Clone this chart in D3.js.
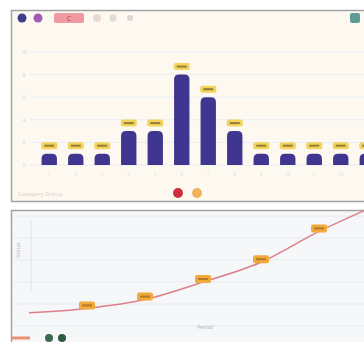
<!DOCTYPE html>
<html><head><meta charset="utf-8">
<script src="https://cdn.jsdelivr.net/npm/d3@7"></script>
<style>html,body{margin:0;padding:0;background:#fff;overflow:hidden}svg{display:block;font-family:"Noto Sans",sans-serif}</style>
</head><body>
<svg id="c" width="364" height="342"></svg>
<script>
// ---- data ----
const barCategories = ["1","2","3","4","5","6","7","8","9","10","11","12","13","14"];
const barValues = [1, 1, 1, 3, 3, 8, 6, 3, 1, 1, 1, 1, 1, 1];
const barTicks = [0, 2, 4, 6, 8, 10];
const legendTop = ["A", "B", "C", "D", "E", "F"];
const lineCategories = ["P1","P2","P3","P4","P5","P6","P7"];
const lineValues = [6, 8, 12, 20, 29, 43, 55];
const lineTicks = [0, 10, 20, 30, 40, 50];

const svg = d3.select("#c");

// ---- top panel ----
const topG = svg.append("g");
topG.append("rect").attr("x", 11.5).attr("y", 10.5).attr("width", 400).attr("height", 191)
  .attr("fill", "#fdf9f1").attr("stroke", "#a3a3a3").attr("stroke-width", 1.5);

const xb = d3.scaleBand().domain(barCategories).range([36, 407]).paddingInner(0.42).paddingOuter(0.21);
const yb = d3.scaleLinear().domain([0, 10]).range([165, 52]);

topG.append("g").selectAll("line").data(barTicks).join("line")
  .attr("x1", 30).attr("x2", 400).attr("y1", d => yb(d)).attr("y2", d => yb(d))
  .attr("stroke", "#e6eef6").attr("stroke-width", 1);
topG.append("g").selectAll("text").data(barTicks).join("text")
  .attr("x", 24).attr("y", d => yb(d) + 2).attr("text-anchor", "middle")
  .attr("font-size", 5).attr("fill", "#cfd6dd").text(d => d);

topG.append("g").selectAll("path").data(barValues).join("path")
  .attr("fill", "#40368f")
  .attr("d", (d, i) => {
    const x0 = xb(barCategories[i]), w = xb.bandwidth(), y0 = yb(d), y1 = yb(0), r = 5;
    return `M${x0},${y1}V${y0 + r}Q${x0},${y0} ${x0 + r},${y0}H${x0 + w - r}Q${x0 + w},${y0} ${x0 + w},${y0 + r}V${y1}Z`;
  });
const badges = topG.append("g").selectAll("g").data(barValues).join("g")
  .attr("transform", (d, i) => `translate(${xb(barCategories[i]) + xb.bandwidth() / 2},${yb(d) - 8})`);
badges.append("rect").attr("x", -8).attr("y", -3.5).attr("width", 16).attr("height", 7).attr("rx", 2)
  .attr("fill", "#f3d35a");
badges.append("rect").attr("x", -5).attr("y", -1).attr("width", 10).attr("height", 2).attr("fill", "#6b5a2a").attr("opacity", 0.7);

topG.append("g").selectAll("text").data(barCategories.filter(d => xb(d) + xb.bandwidth() < 356)).join("text")
  .attr("x", d => xb(d) + xb.bandwidth() / 2).attr("y", 176).attr("text-anchor", "middle")
  .attr("font-size", 5).attr("fill", (d, i) => i % 2 ? "#cde3f0" : "#e8eab0").text(d => d);

const lg = topG.append("g");
lg.append("circle").attr("cx", 22).attr("cy", 18).attr("r", 4.5).attr("fill", "#3f3d8c");
lg.append("circle").attr("cx", 38).attr("cy", 18).attr("r", 4.5).attr("fill", "#a05bb3");
lg.append("rect").attr("x", 54).attr("y", 13).attr("width", 30).attr("height", 10).attr("rx", 2).attr("fill", "#ef9aa0");
lg.append("text").attr("x", 69).attr("y", 20.5).attr("text-anchor", "middle").attr("font-size", 7).attr("fill", "#d33a4a").text(legendTop[2]);
lg.append("circle").attr("cx", 97).attr("cy", 18).attr("r", 4).attr("fill", "#ecd8d2");
lg.append("circle").attr("cx", 113).attr("cy", 18).attr("r", 3.5).attr("fill", "#e2dbd4");
lg.append("circle").attr("cx", 130).attr("cy", 18).attr("r", 3).attr("fill", "#ddd5d0");
lg.append("rect").attr("x", 350).attr("y", 13).attr("width", 10).attr("height", 10).attr("rx", 2).attr("fill", "#5f9c98");

topG.append("text").attr("x", 18).attr("y", 196).attr("font-size", 6).attr("fill", "#ddd0c0").text("Category Group");
topG.append("circle").attr("cx", 178).attr("cy", 193).attr("r", 5).attr("fill", "#cc2f3a");
topG.append("circle").attr("cx", 197).attr("cy", 193).attr("r", 5).attr("fill", "#f0b25a");

// ---- bottom panel ----
const bot = svg.append("g");
bot.append("rect").attr("x", 11.5).attr("y", 210.5).attr("width", 400).attr("height", 200)
  .attr("fill", "#f6f7f9").attr("stroke", "#a3a3a3").attr("stroke-width", 1.5);

const xl = d3.scalePoint().domain(lineCategories).range([29, 377]);
const yl = d3.scaleLinear().domain([0, 60]).range([326, 194]);

bot.append("g").selectAll("line").data(lineTicks).join("line")
  .attr("x1", 14).attr("x2", 400).attr("y1", d => yl(d)).attr("y2", d => yl(d))
  .attr("stroke", "#e7e9ee").attr("stroke-width", 1);
bot.append("line").attr("x1", 31).attr("x2", 31).attr("y1", 220).attr("y2", 292).attr("stroke", "#e2e4e8");
bot.append("text").attr("transform", "translate(20,250) rotate(-90)").attr("text-anchor", "middle")
  .attr("font-size", 6).attr("fill", "#b9bcc2").text("Value");

const line = d3.line().x((d, i) => xl(lineCategories[i])).y(d => yl(d)).curve(d3.curveMonotoneX);
bot.append("path").datum(lineValues).attr("d", line).attr("fill", "none")
  .attr("stroke", "#db7f8a").attr("stroke-width", 1.5);

const lb = bot.append("g").selectAll("g").data(lineValues).join("g")
  .attr("transform", (d, i) => `translate(${xl(lineCategories[i])},${yl(d) - 3})`)
  .attr("opacity", (d, i) => i === 0 ? 0 : 1);
lb.append("rect").attr("x", -8).attr("y", -4).attr("width", 16).attr("height", 8).attr("rx", 2).attr("fill", "#f2a93b");
lb.append("rect").attr("x", -5).attr("y", -1).attr("width", 10).attr("height", 2).attr("fill", "#8a5a20").attr("opacity", 0.6);

bot.append("text").attr("x", 205).attr("y", 329).attr("text-anchor", "middle").attr("font-size", 5).attr("fill", "#aeb2b8").text("Period");

bot.append("line").attr("x1", 12).attr("x2", 30).attr("y1", 338).attr("y2", 338).attr("stroke", "#ec8f72").attr("stroke-width", 3);
bot.append("circle").attr("cx", 49).attr("cy", 338).attr("r", 4).attr("fill", "#3c6a4c");
bot.append("circle").attr("cx", 62).attr("cy", 338).attr("r", 4).attr("fill", "#2f5a42");
</script>
</body></html>
